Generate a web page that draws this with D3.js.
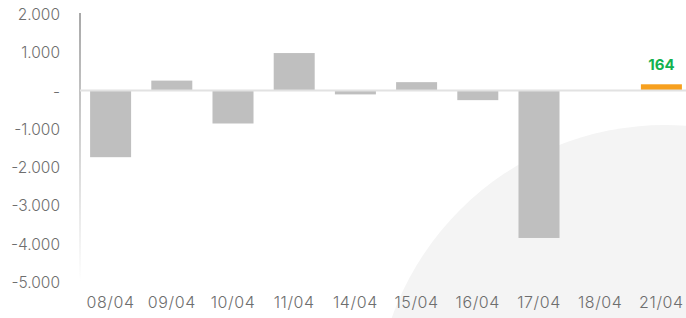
<!DOCTYPE html>
<meta charset="utf-8">
<title>net flows</title>
<style>
body {
  margin: 0px;
  background: #fff;
}
svg {
  display: block;
}
.tick text {
  font-family: Inter, sans-serif;
  font-weight: 300;
  font-size: 15.5px;
  fill: #6e6e6e;
}
.xaxis .tick text {
  font-size: 16px;
  letter-spacing: 0.6px;
}
</style>
<script src="https://cdnjs.cloudflare.com/ajax/libs/d3/7.8.5/d3.min.js"></script>
<body>
<script>
var width = 686, height = 318;

// values
var days = ["08/04", "09/04", "10/04", "11/04", "14/04", "15/04", "16/04", "17/04", "18/04", "21/04"];
var values = [-1740, 260, -860, 980, -100, 220, -250, -3850, 0, 164];
var yTicks = [2000, 1000, 0, -1000, -2000, -3000, -4000, -5000];

var svg = d3.select("body").append("svg")
    .attr("width", width)
    .attr("height", height);

var defs = svg.append("defs");
var grad = defs.append("linearGradient")
    .attr("id", "axisFade")
    .attr("x1", 0).attr("y1", 0).attr("x2", 0).attr("y2", 1);
grad.append("stop").attr("offset", "0%").attr("stop-color", "#a8a8a8");
grad.append("stop").attr("offset", "100%").attr("stop-color", "#ffffff");

// big faint circle in the background
svg.append("circle")
    .attr("cx", 665)
    .attr("cy", 415)
    .attr("r", 290)
    .attr("fill", "#f4f4f4");

var x = d3.scaleBand()
    .domain(days)
    .range([80, 692])
    .paddingInner(0.33)
    .paddingOuter(0.165);

var y = d3.scaleLinear()
    .domain([-5000, 2000])
    .range([282, 14]);

var locale = d3.formatLocale({decimal: ",", thousands: ".", grouping: [3], currency: ["", ""], minus: "-"});
var fmt = locale.format(",.0f");

var yAxis = svg.append("g")
    .attr("transform", "translate(60,0)")
    .call(d3.axisLeft(y).tickValues(yTicks).tickSize(0).tickPadding(0)
      .tickFormat(function(d) { return d === 0 ? "-" : fmt(d); }));
yAxis.select(".domain").remove();
yAxis.selectAll("text").attr("dy", "0.35em");

// vertical axis line fading downward
svg.append("rect")
    .attr("x", 79)
    .attr("y", 13)
    .attr("width", 2)
    .attr("height", 268)
    .attr("fill", "url(#axisFade)");

// bars
svg.append("g").selectAll("rect")
    .data(values)
  .enter().append("rect")
    .attr("x", function(d, i) { return x(days[i]); })
    .attr("width", x.bandwidth())
    .attr("y", function(d) { return y(Math.max(0, d)); })
    .attr("height", function(d) { return Math.abs(y(d) - y(0)); })
    .attr("fill", function(d, i) { return i === days.length - 1 ? "#f7a01e" : "#bfbfbf"; });

// zero line
svg.append("line")
    .attr("x1", 80)
    .attr("x2", width)
    .attr("y1", y(0))
    .attr("y2", y(0))
    .attr("stroke", "#e2e2e2")
    .attr("stroke-width", 2);

// label for last bar
var last = days.length - 1;
svg.append("text")
    .attr("x", x(days[last]) + x.bandwidth() / 2)
    .attr("y", y(values[last]) - 14)
    .attr("text-anchor", "middle")
    .attr("font-family", "Inter, sans-serif")
    .attr("font-weight", "bold")
    .attr("font-size", "15px")
    .attr("fill", "#14b24f")
    .text(fmt(values[last]));

var xAxis = svg.append("g")
    .attr("class", "xaxis")
    .attr("transform", "translate(0,297)")
    .call(d3.axisBottom(x).tickSize(0).tickPadding(0));
xAxis.select(".domain").remove();
xAxis.selectAll("text").attr("dy", "0.71em");
</script>
